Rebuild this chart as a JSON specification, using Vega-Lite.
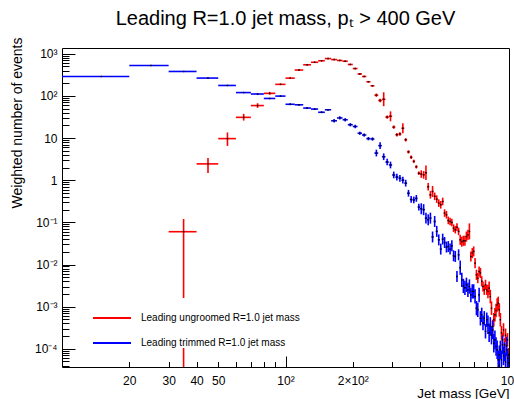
{
"$schema":"https://vega.github.io/schema/vega-lite/v6.json",
"width":447,"height":319,
"autosize":{"type":"none"},
"padding":{"left":62,"top":48,"right":5,"bottom":32},
"background":"white",
"config":{"view":{"stroke":"black","strokeWidth":1},"font":"Liberation Sans"},
"title":{"text":"Leading R=1.0 jet mass, pₜ > 400 GeV","font":"Liberation Sans","fontSize":20,"fontWeight":"normal","color":"black","anchor":"middle","baseline":"alphabetic","offset":19,"dy":27},
"data":{"values":[
{"s":"u","a":30,"b":40,"c":35,"y":0.06,"l":1e-6,"h":0.12},
{"s":"u","a":40,"b":50,"c":45,"y":2.44,"l":1.48,"h":3.35},
{"s":"u","a":50,"b":60,"c":55,"y":9.7,"l":6.5,"h":13.6},
{"s":"u","a":60,"b":70,"c":65,"y":31,"l":26,"h":37.5},
{"s":"u","a":70,"b":80,"c":75,"y":59,"l":52,"h":67},
{"s":"u","a":80,"b":90,"c":85,"y":115,"l":106,"h":125},
{"s":"u","a":90,"b":100,"c":95,"y":188,"l":182,"h":195},
{"s":"u","a":100,"b":110,"c":105,"y":264,"l":255,"h":273},
{"s":"u","a":110,"b":120,"c":115,"y":411,"l":397,"h":425},
{"s":"u","a":120,"b":130,"c":125,"y":548,"l":529,"h":567},
{"s":"u","a":130,"b":140,"c":135,"y":628,"l":607,"h":650},
{"s":"u","a":140,"b":150,"c":145,"y":683,"l":660,"h":707},
{"s":"u","a":150,"b":160,"c":155,"y":769,"l":743,"h":796},
{"s":"u","a":160,"b":170,"c":165,"y":728,"l":703,"h":753},
{"s":"u","a":170,"b":180,"c":175,"y":693,"l":670,"h":717},
{"s":"u","a":180,"b":190,"c":185,"y":664,"l":642,"h":687},
{"s":"u","a":190,"b":200,"c":195,"y":557,"l":538,"h":576},
{"s":"u","a":200,"b":210,"c":205,"y":446,"l":431,"h":462},
{"s":"u","a":210,"b":220,"c":215,"y":332,"l":321,"h":344},
{"s":"u","a":220,"b":230,"c":225,"y":289,"l":279,"h":299},
{"s":"u","a":230,"b":240,"c":235,"y":217,"l":210,"h":225},
{"s":"u","a":240,"b":250,"c":245,"y":174,"l":168,"h":180},
{"s":"u","a":250,"b":260,"c":255,"y":104,"l":94.9,"h":114},
{"s":"u","a":260,"b":270,"c":265,"y":78,"l":71.2,"h":85.5},
{"s":"u","a":270,"b":280,"c":275,"y":83,"l":57,"h":122},
{"s":"u","a":280,"b":290,"c":285,"y":31.5,"l":28.7,"h":34.5},
{"s":"u","a":290,"b":300,"c":295,"y":32.9,"l":25,"h":43},
{"s":"u","a":300,"b":310,"c":305,"y":18.2,"l":16.6,"h":19.9},
{"s":"u","a":310,"b":320,"c":315,"y":12.0,"l":10.9,"h":13.2},
{"s":"u","a":320,"b":330,"c":325,"y":12.5,"l":11.4,"h":13.7},
{"s":"u","a":330,"b":340,"c":335,"y":17.1,"l":13.0,"h":22.5},
{"s":"u","a":340,"b":350,"c":345,"y":9.1,"l":8.3,"h":9.97},
{"s":"u","a":350,"b":360,"c":355,"y":4.7,"l":4.29,"h":5.15},
{"s":"u","a":360,"b":370,"c":365,"y":3.5,"l":3.19,"h":3.84},
{"s":"u","a":370,"b":380,"c":375,"y":2.8,"l":2.55,"h":3.07},
{"s":"u","a":380,"b":390,"c":385,"y":2.08,"l":1.9,"h":2.28},
{"s":"u","a":390,"b":400,"c":395,"y":1.46,"l":1.33,"h":1.6},
{"s":"u","a":400,"b":410,"c":405,"y":1.4,"l":1.14,"h":1.72},
{"s":"u","a":410,"b":420,"c":415,"y":1.34,"l":1.09,"h":1.65},
{"s":"u","a":420,"b":430,"c":425,"y":1.5,"l":1.01,"h":2.22},
{"s":"u","a":430,"b":440,"c":435,"y":0.7,"l":0.569,"h":0.861},
{"s":"u","a":440,"b":450,"c":445,"y":0.45,"l":0.366,"h":0.554},
{"s":"u","a":450,"b":460,"c":455,"y":0.54,"l":0.4,"h":0.728},
{"s":"u","a":460,"b":470,"c":465,"y":0.415,"l":0.337,"h":0.51},
{"s":"u","a":470,"b":480,"c":475,"y":0.356,"l":0.289,"h":0.438},
{"s":"u","a":480,"b":490,"c":485,"y":0.286,"l":0.233,"h":0.352},
{"s":"u","a":490,"b":500,"c":495,"y":0.261,"l":0.212,"h":0.321},
{"s":"u","a":500,"b":510,"c":505,"y":0.313,"l":0.254,"h":0.385},
{"s":"u","a":510,"b":520,"c":515,"y":0.166,"l":0.135,"h":0.204},
{"s":"u","a":520,"b":530,"c":525,"y":0.151,"l":0.123,"h":0.186},
{"s":"u","a":530,"b":540,"c":535,"y":0.111,"l":0.0902,"h":0.137},
{"s":"u","a":540,"b":550,"c":545,"y":0.105,"l":0.0854,"h":0.129},
{"s":"u","a":550,"b":560,"c":555,"y":0.099,"l":0.0805,"h":0.122},
{"s":"u","a":560,"b":570,"c":565,"y":0.073,"l":0.0593,"h":0.0898},
{"s":"u","a":570,"b":580,"c":575,"y":0.067,"l":0.0545,"h":0.0824},
{"s":"u","a":580,"b":590,"c":585,"y":0.077,"l":0.0626,"h":0.0947},
{"s":"u","a":590,"b":600,"c":595,"y":0.061,"l":0.0496,"h":0.075},
{"s":"u","a":600,"b":610,"c":605,"y":0.0385,"l":0.0292,"h":0.0507},
{"s":"u","a":610,"b":620,"c":615,"y":0.0346,"l":0.0263,"h":0.0456},
{"s":"u","a":620,"b":630,"c":625,"y":0.0365,"l":0.0277,"h":0.0481},
{"s":"u","a":630,"b":640,"c":635,"y":0.0365,"l":0.0277,"h":0.0481},
{"s":"u","a":640,"b":650,"c":645,"y":0.046,"l":0.0349,"h":0.0606},
{"s":"u","a":650,"b":660,"c":655,"y":0.0507,"l":0.0385,"h":0.0668},
{"s":"u","a":660,"b":670,"c":665,"y":0.061,"l":0.0394,"h":0.0945},
{"s":"u","a":670,"b":680,"c":675,"y":0.0155,"l":0.0118,"h":0.0204},
{"s":"u","a":680,"b":690,"c":685,"y":0.0186,"l":0.0141,"h":0.0245},
{"s":"u","a":690,"b":700,"c":695,"y":0.0204,"l":0.0155,"h":0.0269},
{"s":"u","a":700,"b":710,"c":705,"y":0.0108,"l":0.0082,"h":0.0142},
{"s":"u","a":710,"b":720,"c":715,"y":0.0057,"l":0.00432,"h":0.00751},
{"s":"u","a":720,"b":730,"c":725,"y":0.00475,"l":0.0036,"h":0.00626},
{"s":"u","a":730,"b":740,"c":735,"y":0.0068,"l":0.00516,"h":0.00896},
{"s":"u","a":740,"b":750,"c":745,"y":0.0063,"l":0.00478,"h":0.0083},
{"s":"u","a":750,"b":760,"c":755,"y":0.004,"l":0.00303,"h":0.00527},
{"s":"u","a":760,"b":770,"c":765,"y":0.003,"l":0.00228,"h":0.00395},
{"s":"u","a":770,"b":780,"c":775,"y":0.0025,"l":0.0019,"h":0.0033},
{"s":"u","a":780,"b":790,"c":785,"y":0.0033,"l":0.0025,"h":0.00435},
{"s":"u","a":790,"b":800,"c":795,"y":0.0025,"l":0.0019,"h":0.0033},
{"s":"u","a":800,"b":810,"c":805,"y":0.0023,"l":0.00159,"h":0.00332},
{"s":"u","a":810,"b":820,"c":815,"y":0.00275,"l":0.0019,"h":0.00397},
{"s":"u","a":820,"b":830,"c":825,"y":0.00174,"l":0.0012,"h":0.00251},
{"s":"u","a":830,"b":840,"c":835,"y":0.00092,"l":0.000637,"h":0.00133},
{"s":"u","a":840,"b":850,"c":845,"y":0.00034,"l":0.000235,"h":0.000491},
{"s":"u","a":850,"b":860,"c":855,"y":0.00049,"l":0.000339,"h":0.000708},
{"s":"u","a":860,"b":870,"c":865,"y":0.00064,"l":0.000443,"h":0.000925},
{"s":"u","a":870,"b":880,"c":875,"y":0.00081,"l":0.000561,"h":0.00117},
{"s":"u","a":880,"b":890,"c":885,"y":0.0011,"l":0.000761,"h":0.00159},
{"s":"u","a":890,"b":900,"c":895,"y":0.0012,"l":0.00083,"h":0.00173},
{"s":"u","a":900,"b":910,"c":905,"y":0.00084,"l":0.000581,"h":0.00121},
{"s":"u","a":910,"b":920,"c":915,"y":0.00049,"l":0.000339,"h":0.000708},
{"s":"u","a":920,"b":930,"c":925,"y":0.00024,"l":0.000166,"h":0.000347},
{"s":"u","a":930,"b":940,"c":935,"y":0.000163,"l":0.000113,"h":0.000236},
{"s":"u","a":940,"b":950,"c":945,"y":0.00028,"l":0.000194,"h":0.000405},
{"s":"u","a":950,"b":960,"c":955,"y":0.000124,"l":0.0000858,"h":0.000179},
{"s":"u","a":960,"b":970,"c":965,"y":0.00021,"l":0.000145,"h":0.000303},
{"s":"u","a":970,"b":980,"c":975,"y":0.0000946,"l":0.0000655,"h":0.000137},
{"s":"u","a":980,"b":990,"c":985,"y":0.000163,"l":0.000113,"h":0.000236},
{"s":"u","a":990,"b":1000,"c":995,"y":0.000072,"l":0.0000498,"h":0.000104},
{"s":"t","a":10,"b":20,"c":15,"y":289,"l":282.5,"h":295.6},
{"s":"t","a":20,"b":30,"c":25,"y":527,"l":515,"h":539},
{"s":"t","a":30,"b":40,"c":35,"y":380,"l":371,"h":389},
{"s":"t","a":40,"b":50,"c":45,"y":265,"l":259,"h":271},
{"s":"t","a":50,"b":60,"c":55,"y":177,"l":173,"h":181},
{"s":"t","a":60,"b":70,"c":65,"y":120,"l":117.3,"h":122.8},
{"s":"t","a":70,"b":80,"c":75,"y":111,"l":108.5,"h":113.6},
{"s":"t","a":80,"b":90,"c":85,"y":87,"l":85,"h":89},
{"s":"t","a":90,"b":100,"c":95,"y":99,"l":96.8,"h":101.3},
{"s":"t","a":100,"b":110,"c":105,"y":63.3,"l":60.5,"h":66.3},
{"s":"t","a":110,"b":120,"c":115,"y":61.6,"l":58.8,"h":64.5},
{"s":"t","a":120,"b":130,"c":125,"y":51.5,"l":49.2,"h":53.9},
{"s":"t","a":130,"b":140,"c":135,"y":48.7,"l":46.5,"h":51.0},
{"s":"t","a":140,"b":150,"c":145,"y":40.9,"l":39.1,"h":42.8},
{"s":"t","a":150,"b":160,"c":155,"y":46.9,"l":44.8,"h":49.1},
{"s":"t","a":160,"b":170,"c":165,"y":25.7,"l":23.4,"h":28.2},
{"s":"t","a":170,"b":180,"c":175,"y":30.0,"l":27.4,"h":32.9},
{"s":"t","a":180,"b":190,"c":185,"y":27.2,"l":24.8,"h":29.8},
{"s":"t","a":190,"b":200,"c":195,"y":20.7,"l":18.9,"h":22.7},
{"s":"t","a":200,"b":210,"c":205,"y":18.8,"l":17.2,"h":20.6},
{"s":"t","a":210,"b":220,"c":215,"y":13.0,"l":11.9,"h":14.2},
{"s":"t","a":220,"b":230,"c":225,"y":11.8,"l":10.8,"h":12.9},
{"s":"t","a":230,"b":240,"c":235,"y":9.7,"l":8.85,"h":10.6},
{"s":"t","a":240,"b":250,"c":245,"y":9.5,"l":8.67,"h":10.4},
{"s":"t","a":250,"b":260,"c":255,"y":4.4,"l":3.66,"h":5.29},
{"s":"t","a":260,"b":270,"c":265,"y":6.6,"l":5.49,"h":7.93},
{"s":"t","a":270,"b":280,"c":275,"y":3.6,"l":3.0,"h":4.33},
{"s":"t","a":280,"b":290,"c":285,"y":2.7,"l":2.25,"h":3.25},
{"s":"t","a":290,"b":300,"c":295,"y":2.3,"l":1.91,"h":2.76},
{"s":"t","a":300,"b":310,"c":305,"y":1.33,"l":1.11,"h":1.6},
{"s":"t","a":310,"b":320,"c":315,"y":1.19,"l":0.99,"h":1.43},
{"s":"t","a":320,"b":330,"c":325,"y":1.11,"l":0.923,"h":1.334},
{"s":"t","a":330,"b":340,"c":335,"y":1.0,"l":0.832,"h":1.202},
{"s":"t","a":340,"b":350,"c":345,"y":0.85,"l":0.707,"h":1.022},
{"s":"t","a":350,"b":360,"c":355,"y":0.49,"l":0.408,"h":0.589},
{"s":"t","a":360,"b":370,"c":365,"y":0.35,"l":0.291,"h":0.421},
{"s":"t","a":370,"b":380,"c":375,"y":0.34,"l":0.283,"h":0.409},
{"s":"t","a":380,"b":390,"c":385,"y":0.37,"l":0.308,"h":0.445},
{"s":"t","a":390,"b":400,"c":395,"y":0.23,"l":0.191,"h":0.276},
{"s":"t","a":400,"b":410,"c":405,"y":0.21,"l":0.156,"h":0.283},
{"s":"t","a":410,"b":420,"c":415,"y":0.2,"l":0.148,"h":0.27},
{"s":"t","a":420,"b":430,"c":425,"y":0.126,"l":0.0934,"h":0.17},
{"s":"t","a":430,"b":440,"c":435,"y":0.115,"l":0.0852,"h":0.155},
{"s":"t","a":440,"b":450,"c":445,"y":0.126,"l":0.0934,"h":0.17},
{"s":"t","a":450,"b":460,"c":455,"y":0.045,"l":0.0334,"h":0.0607},
{"s":"t","a":460,"b":470,"c":465,"y":0.105,"l":0.0778,"h":0.142},
{"s":"t","a":470,"b":480,"c":475,"y":0.061,"l":0.0452,"h":0.0823},
{"s":"t","a":480,"b":490,"c":485,"y":0.0385,"l":0.0285,"h":0.0519},
{"s":"t","a":490,"b":500,"c":495,"y":0.0232,"l":0.0172,"h":0.0313},
{"s":"t","a":500,"b":510,"c":505,"y":0.04,"l":0.0297,"h":0.054},
{"s":"t","a":510,"b":520,"c":515,"y":0.0333,"l":0.0247,"h":0.0449},
{"s":"t","a":520,"b":530,"c":525,"y":0.0259,"l":0.0192,"h":0.0349},
{"s":"t","a":530,"b":540,"c":535,"y":0.0267,"l":0.0198,"h":0.036},
{"s":"t","a":540,"b":550,"c":545,"y":0.0232,"l":0.0172,"h":0.0313},
{"s":"t","a":550,"b":560,"c":555,"y":0.0278,"l":0.0206,"h":0.0375},
{"s":"t","a":560,"b":570,"c":565,"y":0.0161,"l":0.0119,"h":0.0217},
{"s":"t","a":570,"b":580,"c":575,"y":0.0155,"l":0.0115,"h":0.0209},
{"s":"t","a":580,"b":590,"c":585,"y":0.0052,"l":0.00385,"h":0.00701},
{"s":"t","a":590,"b":600,"c":595,"y":0.017,"l":0.0126,"h":0.0229},
{"s":"t","a":600,"b":610,"c":605,"y":0.0084,"l":0.00568,"h":0.0124},
{"s":"t","a":610,"b":620,"c":615,"y":0.0043,"l":0.00291,"h":0.00636},
{"s":"t","a":620,"b":630,"c":625,"y":0.0031,"l":0.0021,"h":0.00458},
{"s":"t","a":630,"b":640,"c":635,"y":0.0028,"l":0.00189,"h":0.00414},
{"s":"t","a":640,"b":650,"c":645,"y":0.0033,"l":0.00223,"h":0.00488},
{"s":"t","a":650,"b":660,"c":655,"y":0.0025,"l":0.00169,"h":0.0037},
{"s":"t","a":660,"b":670,"c":665,"y":0.003,"l":0.00203,"h":0.00444},
{"s":"t","a":670,"b":680,"c":675,"y":0.0019,"l":0.00128,"h":0.00281},
{"s":"t","a":680,"b":690,"c":685,"y":0.0023,"l":0.00156,"h":0.0034},
{"s":"t","a":690,"b":700,"c":695,"y":0.0023,"l":0.00156,"h":0.0034},
{"s":"t","a":700,"b":710,"c":705,"y":0.00174,"l":0.00118,"h":0.00257},
{"s":"t","a":710,"b":720,"c":715,"y":0.00092,"l":0.000622,"h":0.00136},
{"s":"t","a":720,"b":730,"c":725,"y":0.00084,"l":0.000568,"h":0.00124},
{"s":"t","a":730,"b":740,"c":735,"y":0.0019,"l":0.00128,"h":0.00281},
{"s":"t","a":740,"b":750,"c":745,"y":0.00053,"l":0.000358,"h":0.000784},
{"s":"t","a":750,"b":760,"c":755,"y":0.00064,"l":0.000433,"h":0.000947},
{"s":"t","a":760,"b":770,"c":765,"y":0.00041,"l":0.000277,"h":0.000606},
{"s":"t","a":770,"b":780,"c":775,"y":0.00053,"l":0.000358,"h":0.000784},
{"s":"t","a":780,"b":790,"c":785,"y":0.00026,"l":0.000176,"h":0.000385},
{"s":"t","a":790,"b":800,"c":795,"y":0.00049,"l":0.000331,"h":0.000725},
{"s":"t","a":800,"b":810,"c":805,"y":0.00037,"l":0.000223,"h":0.000614},
{"s":"t","a":810,"b":820,"c":815,"y":0.00024,"l":0.000145,"h":0.000398},
{"s":"t","a":820,"b":830,"c":825,"y":0.00034,"l":0.000205,"h":0.000564},
{"s":"t","a":830,"b":840,"c":835,"y":0.00021,"l":0.000127,"h":0.000349},
{"s":"t","a":840,"b":850,"c":845,"y":0.00028,"l":0.000169,"h":0.000465},
{"s":"t","a":850,"b":860,"c":855,"y":0.000136,"l":0.0000819,"h":0.000226},
{"s":"t","a":860,"b":870,"c":865,"y":0.000163,"l":0.0000982,"h":0.000271},
{"s":"t","a":870,"b":880,"c":875,"y":0.000113,"l":0.0000681,"h":0.000188},
{"s":"t","a":880,"b":890,"c":885,"y":0.0000946,"l":0.000057,"h":0.000157},
{"s":"t","a":890,"b":900,"c":895,"y":0.0000548,"l":0.000033,"h":0.000091},
{"s":"t","a":900,"b":910,"c":905,"y":0.000072,"l":0.0000434,"h":0.00012},
{"s":"t","a":910,"b":920,"c":915,"y":0.0000946,"l":0.000057,"h":0.000157},
{"s":"t","a":920,"b":930,"c":925,"y":0.0000548,"l":0.000033,"h":0.000091},
{"s":"t","a":930,"b":940,"c":935,"y":0.000124,"l":0.0000747,"h":0.000206},
{"s":"t","a":940,"b":950,"c":945,"y":0.000068,"l":0.000041,"h":0.000113},
{"s":"t","a":950,"b":960,"c":955,"y":0.000085,"l":0.0000512,"h":0.000141},
{"s":"t","a":960,"b":970,"c":965,"y":0.000049,"l":0.0000295,"h":0.0000813},
{"s":"t","a":970,"b":980,"c":975,"y":0.000117,"l":0.0000705,"h":0.000194},
{"s":"t","a":980,"b":990,"c":985,"y":0.00006,"l":0.0000361,"h":0.0000996},
{"s":"t","a":990,"b":1000,"c":995,"y":0.000046,"l":0.0000277,"h":0.0000764}
]},
"layer":[
{"mark":{"type":"rule","strokeWidth":1.6,"clip":true},
 "encoding":{
  "x":{"field":"a","type":"quantitative","scale":{"type":"log","domain":[10,1000],"nice":false},
   "axis":{"orient":"bottom","values":[100,1000],"tickSize":-11,"tickColor":"black","tickWidth":1,"domain":false,"grid":false,
    "labelExpr":"datum.value < 500 ? '10²' : '10³'","labelFont":"Liberation Sans","labelFontSize":12,"labelColor":"black","labelPadding":19,"labelFlush":false,"labelOverlap":false,
    "title":"Jet mass [GeV]","titleFont":"Liberation Sans","titleFontSize":13.5,"titleFontWeight":"normal","titleColor":"black","titleAnchor":"end","titleAlign":"right","titleX":447,"titleY":30,"titleBaseline":"alphabetic"}},
  "x2":{"field":"b"},
  "y":{"field":"y","type":"quantitative","scale":{"type":"log","domain":[0.000037,1370],"nice":false},
   "axis":{"orient":"left","values":[0.0001,0.001,0.01,0.1,1,10,100,1000],"tickSize":-13,"tickColor":"black","tickWidth":1,"domain":false,"grid":false,
    "labelExpr":"datum.value > 500 ? '10³' : datum.value > 50 ? '10²' : datum.value > 5 ? '10' : datum.value > 0.5 ? '1' : datum.value > 0.05 ? '10⁻¹' : datum.value > 0.005 ? '10⁻²' : datum.value > 0.0005 ? '10⁻³' : '10⁻⁴'",
    "labelFont":"Liberation Sans","labelFontSize":12,"labelColor":"black","labelPadding":18,"labelFlush":false,"labelOverlap":false,
    "title":"Weighted number of events","titleFont":"Liberation Sans","titleFontSize":14,"titleFontWeight":"normal","titleColor":"black","titleAnchor":"end","titleX":-45,"titleY":-11,"titleBaseline":"middle"}},
  "color":{"field":"s","type":"nominal","scale":{"domain":["u","t"],"range":["#ff0000","#0000ff"]},
   "legend":{"orient":"none","legendX":30,"legendY":250,"title":null,"symbolType":"stroke","symbolStrokeWidth":2,"symbolSize":1444,"labelFont":"Liberation Sans","labelFontSize":10,"labelColor":"black","labelOffset":9,"fillColor":"white","padding":0,"rowPadding":-8,
    "labelExpr":"datum.label == 'u' ? 'Leading ungroomed R=1.0 jet mass' : 'Leading trimmed R=1.0 jet mass'"}}
 }},
{"mark":{"type":"rule","strokeWidth":1.6,"clip":true},
 "encoding":{
  "x":{"field":"c","type":"quantitative",
   "axis":{"orient":"bottom","values":[20,30,40,50,60,70,80,90,200,300,400,500,600,700,800,900],"tickSize":-5.5,"tickColor":"black","tickWidth":1,"domain":false,"grid":false,
    "labelExpr":"datum.value == 20 ? '20' : datum.value == 30 ? '30' : datum.value == 40 ? '40' : datum.value == 50 ? '50' : datum.value == 200 ? '2×10²' : ''",
    "labelFont":"Liberation Sans","labelFontSize":12,"labelColor":"black","labelPadding":13.5,"labelFlush":false,"labelOverlap":false,"title":null}},
  "y":{"field":"l","type":"quantitative",
   "axis":{"orient":"left","values":[0.00004,0.00005,0.00006,0.00007,0.00008,0.00009,0.0002,0.0003,0.0004,0.0005,0.0006,0.0007,0.0008,0.0009,0.002,0.003,0.004,0.005,0.006,0.007,0.008,0.009,0.02,0.03,0.04,0.05,0.06,0.07,0.08,0.09,0.2,0.3,0.4,0.5,0.6,0.7,0.8,0.9,2,3,4,5,6,7,8,9,20,30,40,50,60,70,80,90,200,300,400,500,600,700,800,900],
    "tickSize":-7,"tickColor":"black","tickWidth":1,"domain":false,"grid":false,"labels":false,"title":null}},
  "y2":{"field":"h"},
  "color":{"field":"s","type":"nominal"}
 }},
{"mark":{"type":"square","size":2,"color":"black","opacity":1,"clip":true},
 "encoding":{
  "x":{"field":"c","type":"quantitative","axis":null},
  "y":{"field":"y","type":"quantitative","axis":null}
 }}
],
"resolve":{"axis":{"x":"independent","y":"independent"}}
}
